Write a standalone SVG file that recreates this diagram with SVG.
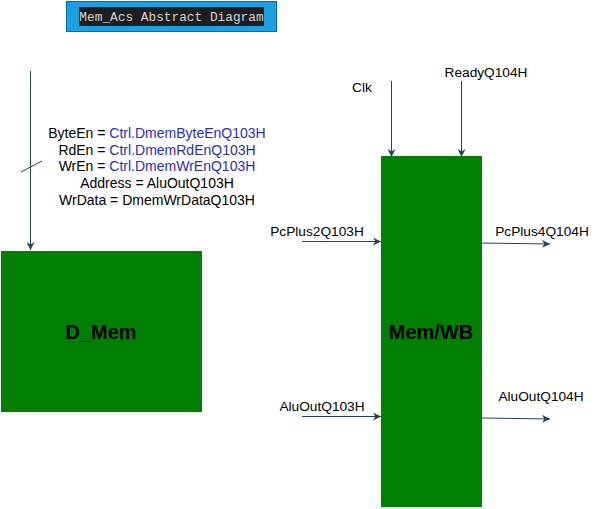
<svg xmlns="http://www.w3.org/2000/svg" width="604" height="509" viewBox="0 0 604 509">
<style>
.lbl{font-family:"Liberation Sans",Arial,sans-serif;font-size:13.7px;fill:#000}
.blk{font-size:14px}
.blue{fill:#2B2BCC}
.ttl{font-family:"Liberation Sans",Arial,sans-serif;font-size:20px;font-weight:bold;fill:#000;text-anchor:middle}
.conn{stroke:#23445D;stroke-width:1;fill:none;marker-end:url(#arr)}
.box{fill:#008000;stroke:none}
</style>
<defs>
<marker id="arr" viewBox="0 0 10 10" refX="10" refY="5" markerWidth="8" markerHeight="8" markerUnits="userSpaceOnUse" orient="auto">
<path d="M0,0 L10,5 L0,10 L3,5 Z" fill="#23445D"/>
</marker>
</defs>
<rect width="604" height="509" fill="#fff"/>
<g id="title">
<rect x="66.5" y="1.5" width="210" height="30" fill="#1BA1E2" stroke="#006EAF"/>
<rect x="79" y="7" width="185" height="19" fill="#1E1E1E"/>
<text x="171.5" y="21" font-family="Liberation Mono,monospace" font-size="12.8" fill="#D4D4D4" text-anchor="middle">Mem_Acs Abstract Diagram</text>
</g>
<g id="dmem">
<rect class="box" x="1" y="251" width="201" height="161"/>
<text class="ttl" x="101" y="339">D_Mem</text>
</g>
<g id="memwb">
<rect class="box" x="381" y="156" width="101" height="351"/>
<text class="ttl" x="431" y="339">Mem/WB</text>
</g>
<g id="connectors">
<line class="conn" x1="30.5" y1="71" x2="30.5" y2="250"/>
<line x1="21" y1="172" x2="42" y2="161" stroke="#23445D" stroke-width="1"/>
<line class="conn" x1="391.5" y1="81" x2="391.5" y2="157"/>
<line class="conn" x1="461.5" y1="81" x2="461.5" y2="157"/>
<line class="conn" x1="302" y1="241.5" x2="381" y2="241.5"/>
<line class="conn" x1="482" y1="243" x2="550" y2="244"/>
<line class="conn" x1="302" y1="416.5" x2="381" y2="416.5"/>
<line class="conn" x1="482" y1="418" x2="550" y2="419"/>
</g>
<g id="labels">
<text class="lbl blk" text-anchor="middle"><tspan x="157" y="138">ByteEn = <tspan class="blue">Ctrl.DmemByteEnQ103H</tspan></tspan><tspan x="157" y="154.5">RdEn = <tspan class="blue">Ctrl.DmemRdEnQ103H</tspan></tspan><tspan x="157" y="171">WrEn = <tspan class="blue">Ctrl.DmemWrEnQ103H</tspan></tspan><tspan x="157" y="188">Address = AluOutQ103H</tspan><tspan x="157" y="205">WrData = DmemWrDataQ103H</tspan></text>
<text class="lbl" x="362" y="92" text-anchor="middle">Clk</text>
<text class="lbl" x="486" y="77" text-anchor="middle">ReadyQ104H</text>
<text class="lbl" x="317" y="236" text-anchor="middle">PcPlus2Q103H</text>
<text class="lbl" x="542" y="236" text-anchor="middle">PcPlus4Q104H</text>
<text class="lbl" x="322" y="411" text-anchor="middle">AluOutQ103H</text>
<text class="lbl" x="541" y="401" text-anchor="middle">AluOutQ104H</text>
</g>
</svg>
